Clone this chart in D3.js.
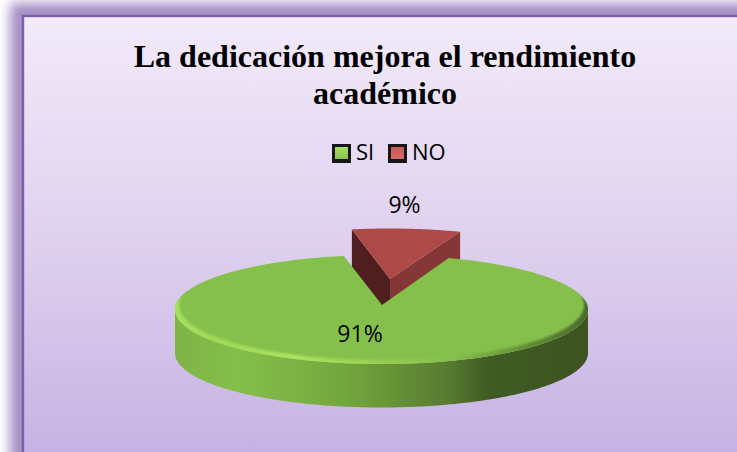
<!DOCTYPE html>
<html><head><meta charset="utf-8">
<script src="https://cdn.jsdelivr.net/npm/d3@7"></script>
<style>html,body{margin:0;padding:0;background:#fff;overflow:hidden}svg{display:block}</style>
</head><body><svg id="c" width="737" height="452"></svg>
<script>
const categories = ["SI", "NO"];
const values = [91, 9];
const percentLabels = ["91%", "9%"];
const titleLines = ["La dedicación mejora el rendimiento", "académico"];

const svg = d3.select("#c");
const defs = svg.append("defs");
const rad = d => d * Math.PI / 180;

function linGrad(id, stops, vertical) {
  const g = defs.append("linearGradient").attr("id", id)
    .attr("x1", 0).attr("y1", 0).attr("x2", vertical ? 0 : 1).attr("y2", vertical ? 1 : 0);
  stops.forEach(s => g.append("stop").attr("offset", s[0]).attr("stop-color", s[1]));
}
linGrad("panel", [[0, "#f2ebfa"], [0.5, "#dfd1ee"], [1, "#c5b1e3"]], true);
linGrad("wall", [[0, "#7fb447"], [0.15, "#84bf4a"], [0.4, "#74a83f"], [0.52, "#679536"], [0.66, "#587b31"], [0.76, "#3f5c22"], [1, "#3d5321"]]);
linGrad("lip", [[0, "#a8e25e"], [0.12, "#9fd858"], [0.3, "#aae45e"], [0.5, "#98cf52"], [0.66, "#86c04c"], [0.85, "#5f8a36"], [1, "#46622a"]]);
linGrad("swGreen", [[0, "#a8de60"], [1, "#8ac64e"]], true);
linGrad("swRed", [[0, "#c85a56"], [1, "#d56a66"]], true);
defs.append("filter").attr("id", "glow").attr("x", "-10%").attr("y", "-10%").attr("width", "120%").attr("height", "120%")
  .append("feGaussianBlur").attr("stdDeviation", 6);
defs.append("filter").attr("id", "soft").attr("x", "-5%").attr("y", "-20%").attr("width", "110%").attr("height", "140%")
  .append("feGaussianBlur").attr("stdDeviation", 0.8);

// frame
svg.append("rect").attr("width", 737).attr("height", 452).attr("fill", "#fff");
svg.append("rect").attr("x", 10).attr("y", 3).attr("width", 780).attr("height", 520)
  .attr("fill", "#a58ec4").attr("filter", "url(#glow)");
svg.append("rect").attr("x", 23).attr("y", 16).attr("width", 760).attr("height", 445)
  .attr("fill", "url(#panel)").attr("stroke", "#7c5fa4").attr("stroke-width", 2.4);

// title
svg.append("g").selectAll("text").data(titleLines).join("text")
  .attr("x", 385).attr("y", (d, i) => 67 + i * 37)
  .attr("text-anchor", "middle").attr("font-family", "Liberation Serif")
  .attr("font-weight", "bold").attr("font-size", 32).attr("fill", "#000").text(d => d);

// legend
const legendX = d3.scaleOrdinal().domain(categories).range([332, 388]);
const swatchFill = d3.scaleOrdinal().domain(categories).range(["url(#swGreen)", "url(#swRed)"]);
const legend = svg.append("g").selectAll("g").data(categories).join("g")
  .attr("transform", d => `translate(${legendX(d)},144)`);
legend.append("rect").attr("width", 19).attr("height", 19).attr("fill", "#161616");
legend.append("rect").attr("x", 3).attr("y", 3).attr("width", 13).attr("height", 12).attr("fill", d => swatchFill(d));
legend.append("text").attr("x", 24).attr("y", 16).attr("font-family", "Open Sans").attr("font-size", 22).attr("fill", "#000").text(d => d);

// pie geometry
const rx = 206.5, ry = 54.5, depth = 43.5;
const cx = 381.5, cy = 309.5;
const greenApex = [382, 305];
const redCenter = [389.5, 283], redApex = [390, 279];
const arcs = d3.pie().sort(null).value(d => d).startAngle(rad(19)).endAngle(rad(379))(values);
const greenAngle = d3.scaleLinear().domain([arcs[0].startAngle, arcs[0].endAngle]).range([rad(19), rad(349.5)]);
const redAngle = d3.scaleLinear().domain([arcs[1].startAngle, arcs[1].endAngle]).range([rad(349.5), rad(380)]);
const onEllipse = (a, c) => [c[0] + rx * Math.sin(a), c[1] - ry * Math.cos(a)];
const line = d3.line();
const sweep = (a0, a1, c, n = 240) => d3.range(n + 1).map(i => onEllipse(a0 + (a1 - a0) * i / n, c));

// red walls & top
const redG = svg.append("g");
const ra0 = redAngle(arcs[1].startAngle), ra1 = redAngle(arcs[1].endAngle);
const pL = onEllipse(ra0, redCenter), pR = onEllipse(ra1, redCenter);
redG.append("path").attr("fill", "#4f1f1f").attr("d", line([pL, redApex, [redApex[0], redApex[1] + depth], [pL[0], pL[1] + depth]]) + "Z");
redG.append("path").attr("fill", "#843736").attr("d", line([redApex, pR, [pR[0], pR[1] + depth], [redApex[0], redApex[1] + depth]]) + "Z");
redG.append("path").attr("fill", "#ad4a47").attr("d", line([redApex, ...sweep(ra0, ra1, redCenter, 40)]) + "Z");

// green wall
const ga0 = greenAngle(arcs[0].startAngle), ga1 = greenAngle(arcs[0].endAngle);
const front = sweep(rad(90), rad(270), [cx, cy]);
const frontLow = sweep(rad(270), rad(90), [cx, cy + depth]);
svg.append("path").attr("fill", "url(#wall)").attr("d", line([...front, ...frontLow]) + "Z");

// green top
const greenPts = [greenApex, ...sweep(ga0, ga1, [cx, cy])];
svg.append("path").attr("fill", "#86c04c").attr("d", line(greenPts) + "Z");

// bevel: crescent on the lower edge only, clipped to the top face
defs.append("clipPath").attr("id", "topClip").append("path").attr("d", line(greenPts) + "Z");
const ringPts = (r1, r2, yc) => d3.range(241).map(i => {
  const a = 2 * Math.PI * i / 240;
  return [cx + r1 * Math.sin(a), yc - r2 * Math.cos(a)];
});
const outerLow = sweep(rad(80), rad(280), [cx, cy + 8]).map(p => [cx + (p[0] - cx) * 1.05, p[1]]);
const innerUp = d3.range(201).map(i => {
  const a = rad(280) - rad(200) * i / 200;
  return [cx + (rx - 4) * Math.sin(a), cy - 4 - ry * Math.cos(a)];
});
svg.append("g").attr("clip-path", "url(#topClip)").append("path")
  .attr("fill", "url(#lip)").attr("filter", "url(#soft)")
  .attr("d", line([...outerLow, ...innerUp]) + "Z");

// labels
const labelPos = [[360, 342], [404.5, 213]];
svg.append("g").selectAll("text").data(percentLabels).join("text")
  .attr("x", (d, i) => labelPos[i][0]).attr("y", (d, i) => labelPos[i][1])
  .attr("text-anchor", "middle").attr("font-family", "Open Sans").attr("font-size", 23)
  .attr("fill", "#000").text(d => d);
</script></body></html>
